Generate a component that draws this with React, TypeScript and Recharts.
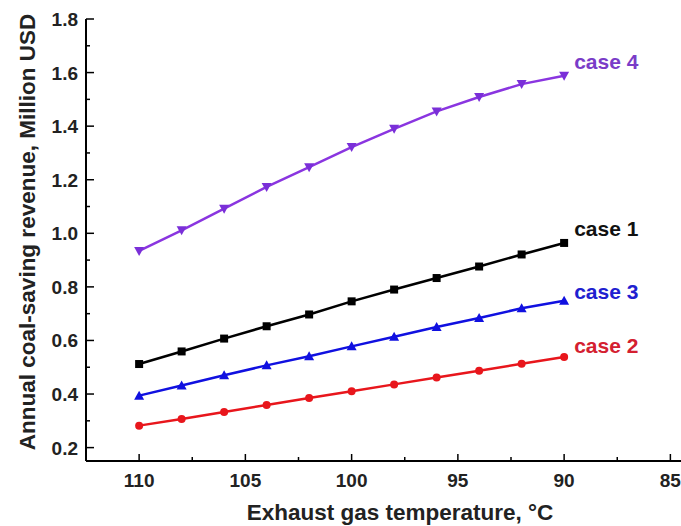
import { Label, LabelList, Line, LineChart, XAxis, YAxis } from "recharts";

const temps = [110, 108, 106, 104, 102, 100, 98, 96, 94, 92, 90];
const case1 = [0.512, 0.559, 0.607, 0.653, 0.697, 0.746, 0.79, 0.833, 0.876, 0.921, 0.964];
const case2 = [0.282, 0.307, 0.333, 0.359, 0.385, 0.41, 0.436, 0.462, 0.487, 0.513, 0.538];
const case3 = [0.394, 0.432, 0.47, 0.507, 0.541, 0.578, 0.614, 0.65, 0.684, 0.72, 0.748];
const case4 = [0.934, 1.011, 1.092, 1.173, 1.247, 1.322, 1.39, 1.455, 1.509, 1.557, 1.588];

const xTicks = [110, 107.5, 105, 102.5, 100, 97.5, 95, 92.5, 90, 87.5, 85];
const yTicks = [0.2, 0.3, 0.4, 0.5, 0.6, 0.7, 0.8, 0.9, 1.0, 1.1, 1.2, 1.3, 1.4, 1.5, 1.6, 1.7, 1.8];

const data = temps.map((t, i) => ({ t, case1: case1[i], case2: case2[i], case3: case3[i], case4: case4[i] }));

const font = "'Liberation Sans', Arial, sans-serif";

function XTick({ x, y, payload }: any) {
  const major = payload.value % 5 === 0;
  return (
    <g>
      <line x1={x} x2={x} y1={y} y2={y - (major ? 7 : 4)} stroke="#000" strokeWidth={1.5} />
      {major && (
        <text x={x} y={y + 26} textAnchor="middle" fontFamily={font} fontWeight="bold" fontSize={19} fill="#222">
          {payload.value}
        </text>
      )}
    </g>
  );
}

function YTick({ x, y, payload }: any) {
  const major = Math.round(payload.value * 10) % 2 === 0;
  return (
    <g>
      <line x1={x} x2={x + (major ? 8 : 4)} y1={y} y2={y} stroke="#000" strokeWidth={1.5} />
      {major && (
        <text x={x - 8} y={y + 7} textAnchor="end" fontFamily={font} fontWeight="bold" fontSize={19} fill="#222">
          {payload.value.toFixed(1)}
        </text>
      )}
    </g>
  );
}

const Square = ({ cx, cy, fill }: any) => <rect x={cx - 4} y={cy - 4} width={8} height={8} fill={fill} />;
const Circle = ({ cx, cy, fill }: any) => <circle cx={cx} cy={cy} r={4} fill={fill} />;
const UpTri = ({ cx, cy, fill }: any) => <path d={`M${cx},${cy - 5}L${cx + 5},${cy + 4}L${cx - 5},${cy + 4}Z`} fill={fill} />;
const DownTri = ({ cx, cy, fill }: any) => <path d={`M${cx},${cy + 5}L${cx + 5},${cy - 4}L${cx - 5},${cy - 4}Z`} fill={fill} />;

function caseLabel(text: string, color: string, dy: number) {
  return (props: any) => {
    if (props.index !== temps.length - 1) return null;
    return (
      <text x={props.x + 10} y={props.y + dy} fontFamily={font} fontWeight="bold" fontSize={21} fill={color}>
        {text}
      </text>
    );
  };
}

export default function App() {
  return (
    <div style={{ position: "absolute", left: 0, top: 0 }}>
      <LineChart width={681} height={526} data={data} margin={{ top: 19, right: 0, bottom: 0, left: 0 }}>
        <XAxis
          dataKey="t"
          type="number"
          domain={[84.5, 112.5]}
          reversed
          ticks={xTicks}
          interval={0}
          tickSize={0}
          tickMargin={0}
          tick={<XTick />}
          height={65}
          axisLine={{ stroke: "#000", strokeWidth: 2 }}
        >
          <Label
            content={() => (
              <text x={400} y={520} textAnchor="middle" fontFamily={font} fontWeight="bold" fontSize={22.5} fill="#222">
                Exhaust gas temperature, °C
              </text>
            )}
          />
        </XAxis>
        <YAxis
          type="number"
          domain={[0.15, 1.8]}
          ticks={yTicks}
          interval={0}
          tickSize={0}
          tickMargin={0}
          tick={<YTick />}
          width={86}
          axisLine={{ stroke: "#000", strokeWidth: 2 }}
        >
          <Label
            content={() => (
              <text x={35} y={232} transform="rotate(-90 35 232)" textAnchor="middle" fontFamily={font} fontWeight="bold" fontSize={22.5} fill="#222">
                Annual coal-saving revenue, Million USD
              </text>
            )}
          />
        </YAxis>
        <Line dataKey="case4" stroke="#8a35e0" strokeWidth={2.5} dot={<DownTri fill="#7a2fd8" />} isAnimationActive={false}>
          <LabelList content={caseLabel("case 4", "#7a3cc8", -7)} />
        </Line>
        <Line dataKey="case1" stroke="#000" strokeWidth={2.5} dot={<Square fill="#000" />} isAnimationActive={false}>
          <LabelList content={caseLabel("case 1", "#111", -7)} />
        </Line>
        <Line dataKey="case3" stroke="#1010e0" strokeWidth={2.5} dot={<UpTri fill="#1010e0" />} isAnimationActive={false}>
          <LabelList content={caseLabel("case 3", "#2020d0", -2)} />
        </Line>
        <Line dataKey="case2" stroke="#e8161c" strokeWidth={2.5} dot={<Circle fill="#e8161c" />} isAnimationActive={false}>
          <LabelList content={caseLabel("case 2", "#d42030", -4)} />
        </Line>
      </LineChart>
    </div>
  );
}
